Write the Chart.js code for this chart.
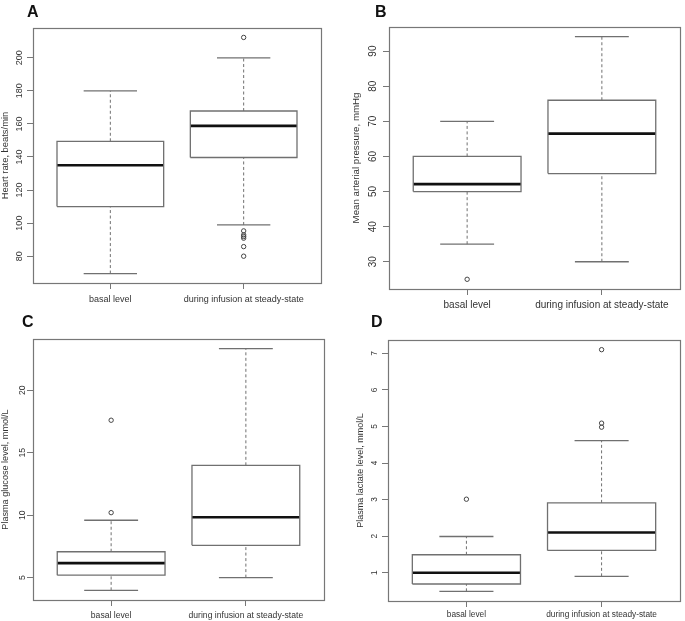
<!DOCTYPE html>
<html>
<head>
<meta charset="utf-8">
<script src="https://cdn.jsdelivr.net/npm/chart.js@4.4.1/dist/chart.umd.min.js"></script>
<style>
html, body { margin: 0; padding: 0; background: #fff; }
#wrap { position: relative; width: 685px; height: 621px; overflow: hidden; }
#wrap canvas { position: absolute; }
.tag { position: absolute; font: bold 16px "Liberation Sans", Arial, sans-serif; line-height: 16px; color: #111; }
</style>
</head>
<body>
<div id="wrap">
  <canvas id="chartA" width="342" height="310" style="left:0;top:0"></canvas>
  <canvas id="chartB" width="343" height="310" style="left:342px;top:0"></canvas>
  <canvas id="chartC" width="342" height="311" style="left:0;top:310px"></canvas>
  <canvas id="chartD" width="343" height="311" style="left:342px;top:310px"></canvas>
  <div class="tag" style="left:27px;top:4px">A</div>
  <div class="tag" style="left:375px;top:4px">B</div>
  <div class="tag" style="left:22px;top:314px">C</div>
  <div class="tag" style="left:371px;top:314px">D</div>
</div>
<script>
var groups = ['basal level', 'during infusion at steady-state'];

// five-number summaries: lower whisker, Q1, median, Q3, upper whisker
var hrBasal = [69.5, 110, 135, 149.5, 180];
var hrInfusion = [98.9, 139.7, 158.8, 167.8, 200];
var hrBasalOut = [];
var hrInfusionOut = [212.3, 95.3, 92.9, 91.9, 90.9, 85.8, 80];
var hrTicks = [80, 100, 120, 140, 160, 180, 200];

var mapBasal = [35, 50, 52.1, 60, 70];
var mapInfusion = [30, 55.1, 66.5, 76, 94.1];
var mapBasalOut = [25];
var mapInfusionOut = [];
var mapTicks = [30, 40, 50, 60, 70, 80, 90];

var gluBasal = [3.98, 5.19, 6.16, 7.07, 9.59];
var gluInfusion = [5, 7.58, 9.83, 13.99, 23.33];
var gluBasalOut = [17.6, 10.2];
var gluInfusionOut = [];
var gluTicks = [5, 10, 15, 20];

var lacBasal = [0.49, 0.69, 1.0, 1.49, 1.99];
var lacInfusion = [0.9, 1.61, 2.1, 2.91, 4.61];
var lacBasalOut = [3.01];
var lacInfusionOut = [7.1, 5.09, 4.98];
var lacTicks = [1, 2, 3, 4, 5, 6, 7];

Chart.defaults.font.family = '"Liberation Sans", Arial, sans-serif';
Chart.defaults.color = '#333';

var lineGrey = '#707070';

var frame = {
    id: 'frame',
    beforeDatasetsDraw: function (chart) {
        var a = chart.chartArea;
        var ctx = chart.ctx;
        ctx.save();
        ctx.strokeStyle = '#777';
        ctx.lineWidth = 1.2;
        ctx.strokeRect(Math.round(a.left) + 0.5, Math.round(a.top) + 0.5,
            Math.round(a.right - a.left), Math.round(a.bottom - a.top));
        ctx.restore();
    }
};

function seg(points, extra) {
    var ds = {
        data: points,
        showLine: true,
        pointRadius: 0,
        borderColor: lineGrey,
        borderWidth: 1.3,
        borderCapStyle: 'butt',
        borderJoinStyle: 'miter',
        tension: 0,
        fill: false
    };
    for (var k in extra) {
        ds[k] = extra[k];
    }
    return ds;
}

function boxSets(pos, s, out) {
    var half = 0.4, cap = 0.2;
    var dashed = { borderDash: [3, 2.5], borderWidth: 1 };
    return [
        seg([{ x: pos, y: s[0] }, { x: pos, y: s[1] }], dashed),
        seg([{ x: pos, y: s[3] }, { x: pos, y: s[4] }], dashed),
        seg([{ x: pos - cap, y: s[0] }, { x: pos + cap, y: s[0] }]),
        seg([{ x: pos - cap, y: s[4] }, { x: pos + cap, y: s[4] }]),
        seg([
            { x: pos - half, y: s[1] }, { x: pos + half, y: s[1] },
            { x: pos + half, y: s[3] }, { x: pos - half, y: s[3] },
            { x: pos - half, y: s[1] }
        ]),
        seg([{ x: pos - half, y: s[2] }, { x: pos + half, y: s[2] }], { borderColor: '#111', borderWidth: 2.6 }),
        {
            data: out.map(function (v) { return { x: pos, y: v }; }),
            showLine: false,
            pointRadius: 2.2,
            pointStyle: 'circle',
            pointBorderColor: '#444',
            pointBackgroundColor: 'rgba(0,0,0,0)',
            pointBorderWidth: 1
        }
    ];
}

function makePanel(id, p) {
    var all = p.basal.concat(p.infusion, p.basalOut, p.infusionOut);
    var lo = Math.min.apply(null, all), hi = Math.max.apply(null, all);
    var ext = (hi - lo) * 0.04;
    var canvas = document.getElementById(id);

    return new Chart(canvas, {
        type: 'scatter',
        data: {
            datasets: boxSets(1, p.basal, p.basalOut).concat(boxSets(2, p.infusion, p.infusionOut))
        },
        plugins: [frame],
        options: {
            responsive: false,
            animation: false,
            layout: { padding: { top: p.top, right: p.right, left: 0, bottom: 0 } },
            plugins: { legend: { display: false }, tooltip: { enabled: false } },
            scales: {
                x: {
                    type: 'linear',
                    min: 0.42,
                    max: 2.58,
                    afterBuildTicks: function (axis) {
                        axis.ticks = [{ value: 1 }, { value: 2 }];
                    },
                    afterFit: function (axis) { axis.height = p.xHeight; },
                    grid: { drawOnChartArea: false, drawTicks: true, tickLength: 6, color: '#777', lineWidth: 1 },
                    border: { display: false },
                    ticks: {
                        font: { size: p.font },
                        padding: p.xPad,
                        maxRotation: 0,
                        autoSkip: false,
                        callback: function (v) { return groups[v - 1]; }
                    }
                },
                y: {
                    type: 'linear',
                    min: lo - ext,
                    max: hi + ext,
                    afterBuildTicks: function (axis) {
                        axis.ticks = p.ticks.map(function (v) { return { value: v }; });
                    },
                    afterFit: function (axis) { axis.width = p.yWidth; },
                    grid: { drawOnChartArea: false, drawTicks: true, tickLength: 6, color: '#777', lineWidth: 1 },
                    border: { display: false },
                    title: {
                        display: true,
                        text: p.title,
                        font: { size: p.titleFont },
                        padding: { top: p.titlePad, bottom: 0 }
                    },
                    ticks: {
                        font: { size: p.font },
                        minRotation: 90,
                        maxRotation: 90,
                        crossAlign: 'center',
                        padding: p.yPad,
                        autoSkip: false
                    }
                }
            }
        }
    });
}

makePanel('chartA', {
    basal: hrBasal, infusion: hrInfusion, basalOut: hrBasalOut, infusionOut: hrInfusionOut,
    ticks: hrTicks, title: 'Heart rate, beats/min',
    top: 28, right: 21, yWidth: 33, xHeight: 27,
    font: 9, titleFont: 9.4, titlePad: 0, xPad: 5, yPad: 0
});

makePanel('chartB', {
    basal: mapBasal, infusion: mapInfusion, basalOut: mapBasalOut, infusionOut: mapInfusionOut,
    ticks: mapTicks, title: 'Mean arterial pressure, mmHg',
    top: 27, right: 3, yWidth: 47, xHeight: 21,
    font: 10, titleFont: 9.7, titlePad: 9, xPad: 4, yPad: 4.5
});

makePanel('chartC', {
    basal: gluBasal, infusion: gluInfusion, basalOut: gluBasalOut, infusionOut: gluInfusionOut,
    ticks: gluTicks, title: 'Plasma glucose level, mmol/L',
    top: 29, right: 18, yWidth: 33, xHeight: 21,
    font: 8.6, titleFont: 9.1, titlePad: 0, xPad: 4, yPad: 0
});

makePanel('chartD', {
    basal: lacBasal, infusion: lacInfusion, basalOut: lacBasalOut, infusionOut: lacInfusionOut,
    ticks: lacTicks, title: 'Plasma lactate level, mmol/L',
    top: 30, right: 5, yWidth: 46, xHeight: 20,
    font: 8.3, titleFont: 9, titlePad: 13, xPad: 3, yPad: 5
});
</script>
</body>
</html>
